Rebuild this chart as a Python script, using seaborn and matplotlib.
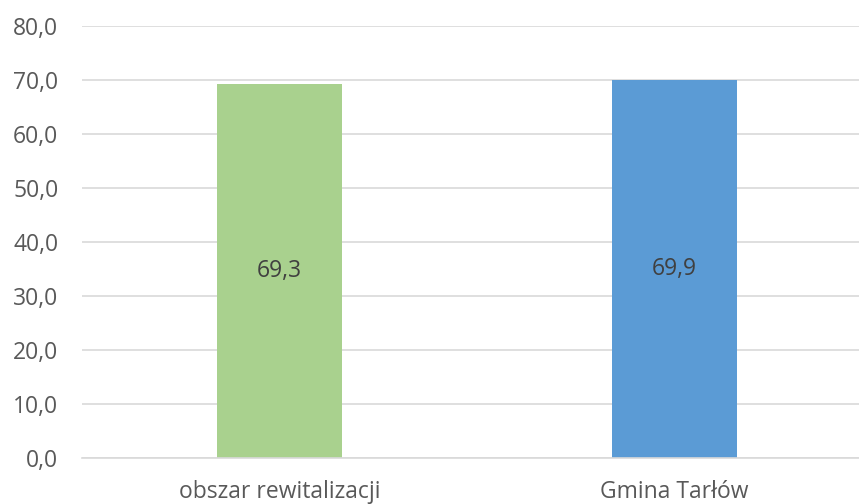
import matplotlib
matplotlib.use("Agg")
import matplotlib.pyplot as plt
import seaborn as sns
import pandas as pd
from matplotlib.ticker import FuncFormatter

categories = ["obszar rewitalizacji", "Gmina Tarłów"]
values = [69.3, 69.9]
colors = ["#A9D18E", "#5B9BD5"]

sns.set_theme(style="white")
plt.rcParams['font.family'] = ['Open Sans', 'DejaVu Sans']

df = pd.DataFrame({"cat": categories, "val": values})
fig = plt.figure(figsize=(8.59, 5.04), dpi=100)
left = 82 / 859
width = (872 - 82) / 859
bottom = 1 - 457.5 / 504
top = 1 - 26 / 504
ax = fig.add_axes([left, bottom, width, top - bottom])
sns.barplot(data=df, x="cat", y="val", hue="cat", palette=colors, width=0.314,
            legend=False, ax=ax, saturation=1, linewidth=0)
ax.set_ylim(0, 80)
ax.set_xlim(-0.5, 1.5)
ax.set_yticks(range(0, 81, 10))
ax.yaxis.set_major_formatter(FuncFormatter(lambda v, p: f"{v:.1f}".replace(".", ",")))
ax.grid(axis="y", color="#D9D9D9", linewidth=1.2)
ax.set_axisbelow(True)
for s in ["top", "right", "left"]:
    ax.spines[s].set_visible(False)
ax.spines["bottom"].set_color("#D9D9D9")
ax.spines["bottom"].set_linewidth(1.2)
ax.set_xlabel("")
ax.set_ylabel("")
ax.tick_params(axis="both", length=0, labelsize=16.5, colors="#595959")
ax.tick_params(axis="y", pad=17)
ax.tick_params(axis="x", pad=16)
for i, v in enumerate(values):
    ax.text(i, v / 2, f"{v:.1f}".replace(".", ","), ha="center", va="center",
            fontsize=16.5, color="#404040")
fig.savefig("out.png", dpi=100)
